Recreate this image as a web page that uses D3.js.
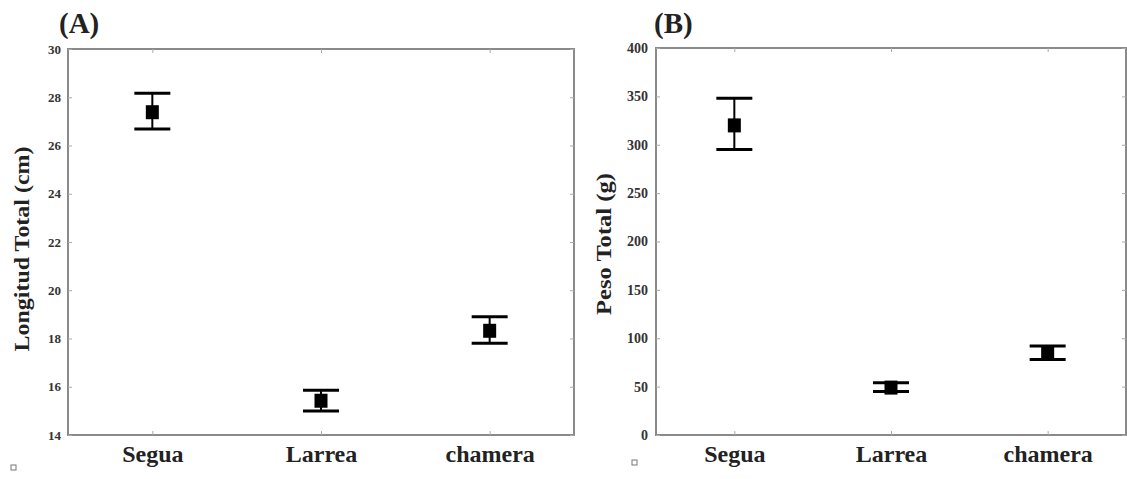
<!DOCTYPE html>
<html>
<head>
<script src="https://cdn.jsdelivr.net/npm/d3@7"></script>
<style>
  body { margin: 0; background: #fff; }
  text { font-family: "Liberation Serif", "Times New Roman", serif; }
</style>
</head>
<body>
<script>
// data
var sites = ["Segua", "Larrea", "chamera"];
var lengthMean = [27.38, 15.42, 18.32];
var lengthLow = [26.68, 15.0, 17.8];
var lengthHigh = [28.17, 15.85, 18.9];
var lengthTicks = [14, 16, 18, 20, 22, 24, 26, 28, 30];

var weightMean = [320, 49, 84];
var weightLow = [295, 45, 78];
var weightHigh = [348, 54, 92];
var weightTicks = [0, 50, 100, 150, 200, 250, 300, 350, 400];

var svg = d3.select("body").append("svg")
    .attr("width", 1127)
    .attr("height", 479);

function panel(opt) {
    var x = d3.scalePoint().domain(sites).range([opt.left, opt.right]).padding(0.5);
    var y = d3.scaleLinear().domain(opt.domain).range([opt.bottom, opt.top]);
    var g = svg.append("g");

    // frame
    g.append("rect")
        .attr("x", opt.left).attr("y", opt.top)
        .attr("width", opt.right - opt.left).attr("height", opt.bottom - opt.top)
        .style("fill", "none").style("stroke", "#8a8a8a").style("stroke-width", 2);

    // left axis
    var yAxis = d3.axisLeft(y).tickValues(opt.ticks).tickSize(-4).tickPadding(opt.tickPad);
    var ya = g.append("g").attr("transform", "translate(" + opt.left + ",0)").call(yAxis);
    ya.select(".domain").remove();
    ya.selectAll("line").style("stroke", "#aaa");
    ya.selectAll("text").style("font-size", opt.tickFont).style("fill", "#333").style("font-weight", "bold");

    // right ticks
    var ra = g.append("g").attr("transform", "translate(" + opt.right + ",0)")
        .call(d3.axisRight(y).tickValues(opt.ticks).tickSize(-4).tickFormat(""));
    ra.select(".domain").remove();
    ra.selectAll("line").style("stroke", "#aaa");

    // bottom axis
    var xa = g.append("g").attr("transform", "translate(0," + opt.bottom + ")")
        .call(d3.axisBottom(x).tickSize(-4).tickPadding(10));
    xa.select(".domain").remove();
    xa.selectAll("line").style("stroke", "#aaa");
    xa.selectAll("text").style("font-size", "24px").style("font-weight", "bold").style("fill", "#222");

    var ta = g.append("g").attr("transform", "translate(0," + opt.top + ")")
        .call(d3.axisTop(x).tickSize(-4).tickFormat(""));
    ta.select(".domain").remove();
    ta.selectAll("line").style("stroke", "#aaa");

    // error bars
    var bars = g.selectAll("g.bar").data(sites).enter().append("g");
    bars.append("line")
        .attr("x1", d => x(d)).attr("x2", d => x(d))
        .attr("y1", (d, i) => y(opt.high[i])).attr("y2", (d, i) => y(opt.low[i]))
        .style("stroke", "#000").style("stroke-width", 2);
    bars.append("line")
        .attr("x1", d => x(d) - 18).attr("x2", d => x(d) + 18)
        .attr("y1", (d, i) => y(opt.high[i])).attr("y2", (d, i) => y(opt.high[i]))
        .style("stroke", "#000").style("stroke-width", 3);
    bars.append("line")
        .attr("x1", d => x(d) - 18).attr("x2", d => x(d) + 18)
        .attr("y1", (d, i) => y(opt.low[i])).attr("y2", (d, i) => y(opt.low[i]))
        .style("stroke", "#000").style("stroke-width", 3);
    bars.append("rect")
        .attr("x", d => x(d) - 6.5).attr("y", (d, i) => y(opt.mean[i]) - 7)
        .attr("width", 13).attr("height", 14)
        .style("fill", "#000");

    // axis title
    g.append("text")
        .attr("transform", "translate(" + opt.titleX + "," + opt.titleY + ") rotate(-90)")
        .attr("text-anchor", "middle")
        .attr("textLength", opt.titleLen).attr("lengthAdjust", "spacingAndGlyphs")
        .style("font-size", "21px").style("font-weight", "bold").style("fill", "#222")
        .text(opt.title);

    // panel letter
    g.append("text")
        .attr("x", opt.letterX).attr("y", 33)
        .style("font-size", "29px").style("font-weight", "bold").style("fill", "#222")
        .text(opt.letter);

    // small stray box
    g.append("rect")
        .attr("x", opt.boxX).attr("y", opt.boxY).attr("width", 5).attr("height", 5)
        .style("fill", "none").style("stroke", "#777").style("stroke-width", 1);
}

panel({left: 68, right: 574, top: 49, bottom: 435, domain: [14, 30], ticks: lengthTicks,
    mean: lengthMean, low: lengthLow, high: lengthHigh, title: "Longitud Total (cm)",
    titleX: 29, titleY: 249, titleLen: 205, tickFont: "13px", tickPad: 7,
    letter: "(A)", letterX: 59, boxX: 11, boxY: 465});
panel({left: 656, right: 1126, top: 48, bottom: 435, domain: [0, 400], ticks: weightTicks,
    mean: weightMean, low: weightLow, high: weightHigh, title: "Peso Total (g)",
    titleX: 611, titleY: 244, titleLen: 142, tickFont: "14px", tickPad: 8,
    letter: "(B)", letterX: 654, boxX: 632, boxY: 460});
</script>
</body>
</html>
